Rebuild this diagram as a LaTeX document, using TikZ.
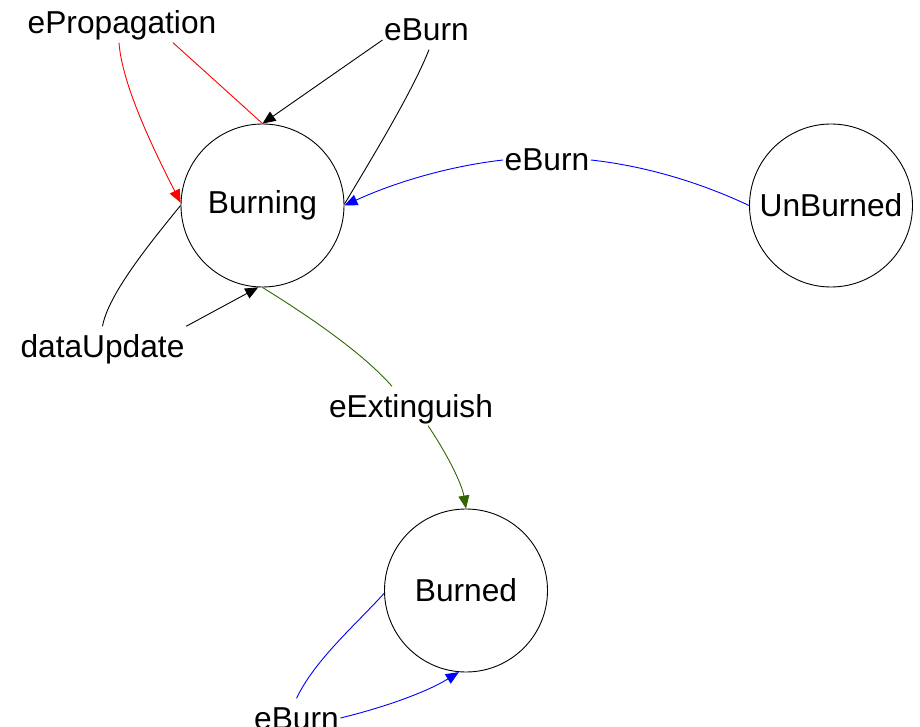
\documentclass[tikz,border=0pt]{standalone}
\usepackage{fontspec}
\setmainfont{Liberation Sans}
\usetikzlibrary{arrows.meta}
\definecolor{exgreen}{HTML}{336600}
\begin{document}
\begin{tikzpicture}[
  x=1pt, y=-1pt,
  every node/.style={font=\fontsize{31.7}{38}\selectfont},
  state/.style={circle, draw=black, line width=0.9pt, minimum size=163pt, inner sep=0pt},
  lbl/.style={fill=white, inner sep=1.5pt, text height=29pt, text depth=7pt, anchor=base},
  edge/.style={line width=0.9pt},
  arr/.style={edge, -{Triangle[length=13pt,width=11pt]}}
]
\useasboundingbox (0,0) rectangle (920,727);

% states
\node[state] (burning)  at (262.5,205.5) {Burning};
\node[state] (unburned) at (831,205.5)   {UnBurned};
\node[state] (burned)   at (466,590.5)   {Burned};

% transition labels
\node[lbl] (ep)  at (122,34)    {ePropagation};
\node[lbl] (ebt) at (426.5,41)  {eBurn};
\node[lbl] (du)  at (102.5,357) {dataUpdate};
\node[lbl] (ex)  at (411,417)   {eExtinguish};
\node[lbl] (ebm) at (547,171)   {eBurn};
\node[lbl] (ebb) at (296.5,729) {eBurn};

% Burning --ePropagation--> Burning
\draw[edge, red] (burning.north) -- ([xshift=51pt]ep.south);
\draw[arr, red] ([xshift=-3pt]ep.south) .. controls +(3,42) and +(-27,-53) .. (burning.178);

% Burning --eBurn--> Burning
\draw[edge] (burning.1) .. controls +(30,-50) and +(-16,40.5) .. ([xshift=2.5pt]ebt.south);
\draw[arr] ([yshift=-10pt]ebt.west) -- (burning.north);

% Burning --dataUpdate--> Burning
\draw[edge] (burning.180) .. controls +(-31,38) and +(5.5,-31.5) .. (du.north);
\draw[arr] (du.north east) -- (burning.267);

% Burning --eExtinguish--> Burned
\draw[edge, exgreen] (burning.south) .. controls +(37,23) and +(-32,-36.5) .. ([xshift=-19pt]ex.north);
\draw[arr, exgreen] ([xshift=17pt]ex.south) .. controls +(20,29.5) and +(-4,-24) .. (burned.north);

% UnBurned --eBurn--> Burning
\draw[edge, blue] (unburned.west) .. controls +(-50,-23.5) and +(54,6) .. (ebm.east);
\draw[arr, blue] (ebm.west) .. controls +(-53,6) and +(51,-23.5) .. (burning.east);

% Burned --eBurn--> Burned
\draw[edge, blue] (burned.182) .. controls +(-29,32) and +(18.5,-38.5) .. (ebb.north);
\draw[arr, blue] (ebb.east) .. controls +(41,-10) and +(-34,21) .. (burned.265);
\end{tikzpicture}
\end{document}
